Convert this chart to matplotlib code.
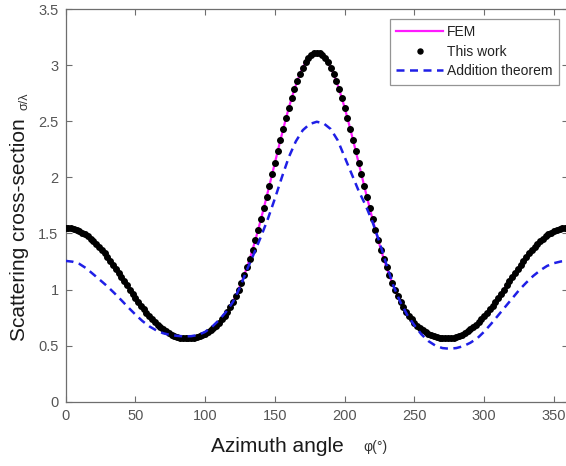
import numpy as np
import matplotlib
matplotlib.use("Agg")
import matplotlib.pyplot as plt

plt.rcParams['font.family'] = ['Liberation Sans', 'DejaVu Sans']

# ---------------- data ----------------
this_work_deg = np.arange(0, 361, 2)
this_work_vals = [
    1.550, 1.549, 1.545, 1.539, 1.531, 1.520, 1.506, 1.491, 1.473, 1.453,
    1.430, 1.406, 1.379, 1.351, 1.321, 1.289, 1.256, 1.221, 1.186, 1.149,
    1.112, 1.075, 1.037, 1.000, 0.963, 0.927, 0.891, 0.857, 0.824, 0.792,
    0.763, 0.735, 0.709, 0.685, 0.663, 0.644, 0.626, 0.611, 0.598, 0.588,
    0.579, 0.572, 0.568, 0.565, 0.565, 0.566, 0.569, 0.575, 0.582, 0.592,
    0.604, 0.618, 0.635, 0.654, 0.677, 0.703, 0.733, 0.766, 0.803, 0.845,
    0.892, 0.943, 0.999, 1.060, 1.126, 1.198, 1.274, 1.355, 1.441, 1.531,
    1.625, 1.722, 1.821, 1.923, 2.026, 2.129, 2.232, 2.333, 2.432, 2.528,
    2.619, 2.705, 2.784, 2.857, 2.922, 2.978, 3.025, 3.062, 3.088, 3.105,
    3.110,
    3.105, 3.088, 3.062, 3.025, 2.978, 2.922, 2.857, 2.784, 2.705, 2.619,
    2.528, 2.432, 2.333, 2.232, 2.129, 2.026, 1.923, 1.821, 1.722, 1.625,
    1.531, 1.441, 1.355, 1.274, 1.198, 1.126, 1.060, 0.999, 0.943, 0.892,
    0.845, 0.803, 0.766, 0.733, 0.703, 0.677, 0.654, 0.635, 0.618, 0.604,
    0.592, 0.582, 0.575, 0.569, 0.566, 0.565, 0.565, 0.568, 0.572, 0.579,
    0.588, 0.598, 0.611, 0.626, 0.644, 0.663, 0.685, 0.709, 0.735, 0.763,
    0.792, 0.824, 0.857, 0.891, 0.927, 0.963, 1.000, 1.037, 1.075, 1.112,
    1.149, 1.186, 1.221, 1.256, 1.289, 1.321, 1.351, 1.379, 1.406, 1.430,
    1.453, 1.473, 1.491, 1.506, 1.520, 1.531, 1.539, 1.545, 1.549, 1.550,
]
fem_deg = this_work_deg
fem_vals = this_work_vals

addition_deg = np.arange(0, 361, 5)
addition_vals = [
    1.255, 1.248, 1.228, 1.188, 1.135, 1.082, 1.028, 0.968, 0.905, 0.840,
    0.778, 0.720, 0.672, 0.636, 0.610, 0.595, 0.587, 0.582, 0.584, 0.595,
    0.622, 0.668, 0.728, 0.800, 0.890, 1.020, 1.175, 1.320, 1.470, 1.630,
    1.810, 2.000, 2.180, 2.320, 2.420, 2.475, 2.495, 2.480, 2.430, 2.330,
    2.180, 2.030, 1.880, 1.750, 1.600, 1.420, 1.220, 1.030, 0.885, 0.770,
    0.680, 0.600, 0.540, 0.500, 0.478, 0.472, 0.478, 0.495, 0.525, 0.565,
    0.625, 0.695, 0.770, 0.845, 0.920, 0.995, 1.060, 1.120, 1.170, 1.210,
    1.235, 1.250, 1.255,
]

x_ticks = [0, 50, 100, 150, 200, 250, 300, 350]
x_tick_labels = ["0", "50", "100", "150", "200", "250", "300", "350"]
y_ticks = [0, 0.5, 1, 1.5, 2, 2.5, 3, 3.5]
y_tick_labels = ["0", "0.5", "1", "1.5", "2", "2.5", "3", "3.5"]

# ---------------- figure ----------------
W, H = 566, 466
fig = plt.figure(figsize=(W / 100, H / 100), dpi=100)
ax = fig.add_axes([65.5 / W, (H - 401.7) / H, (568 - 65.5) / W, (401.7 - 9) / H])

ax.plot(fem_deg, fem_vals, color='#ff1aff', lw=1.6, label='FEM', zorder=2)
ax.plot(this_work_deg, this_work_vals, linestyle='none', marker='o', ms=4.0,
        color='black', label='This work', zorder=3)
ax.plot(addition_deg, addition_vals, color='#1f1fe6', lw=1.8,
        linestyle=(0, (3.2, 2.2)), label='Addition theorem', zorder=4)

ax.set_xlim(0, 360)
ax.set_ylim(0, 3.5)
ax.set_xticks(x_ticks)
ax.set_xticklabels(x_tick_labels)
ax.set_yticks(y_ticks)
ax.set_yticklabels(y_tick_labels)

axis_color = '#6e6e6e'
for s in ax.spines.values():
    s.set_color(axis_color)
    s.set_linewidth(0.9)
ax.tick_params(direction='in', length=4, width=0.8, color=axis_color,
               labelcolor='#555555', labelsize=10.5, top=True, right=True, pad=5)

leg = ax.legend(loc='upper left',
                bbox_to_anchor=((390 - 65.5) / (568 - 65.5), (401.7 - 19) / (401.7 - 9)),
                frameon=True, fancybox=False, fontsize=10, handlelength=3.4,
                handletextpad=0.25, borderpad=0.45, labelspacing=0.4,
                borderaxespad=0, markerscale=0.9)
leg.get_frame().set_edgecolor('#7a7a7a')
leg.get_frame().set_linewidth(0.9)
for t in leg.get_texts():
    t.set_color('#222222')

# axis labels
fig.text(277 / W, 1 - 447 / H, 'Azimuth angle', fontsize=15, color='#1a1a1a',
         ha='center', va='center')
fig.text(375 / W, 1 - 447 / H, 'φ(°)', fontsize=10, color='#333333',
         ha='center', va='center')
fig.text(20 / W, 1 - 230 / H, 'Scattering cross-section', fontsize=15, color='#1a1a1a',
         ha='center', va='center', rotation=90)
fig.text(24 / W, 1 - 101 / H, 'σ/λ', fontsize=9, color='#333333',
         ha='center', va='center', rotation=90)

fig.savefig('out.png', dpi=100)
